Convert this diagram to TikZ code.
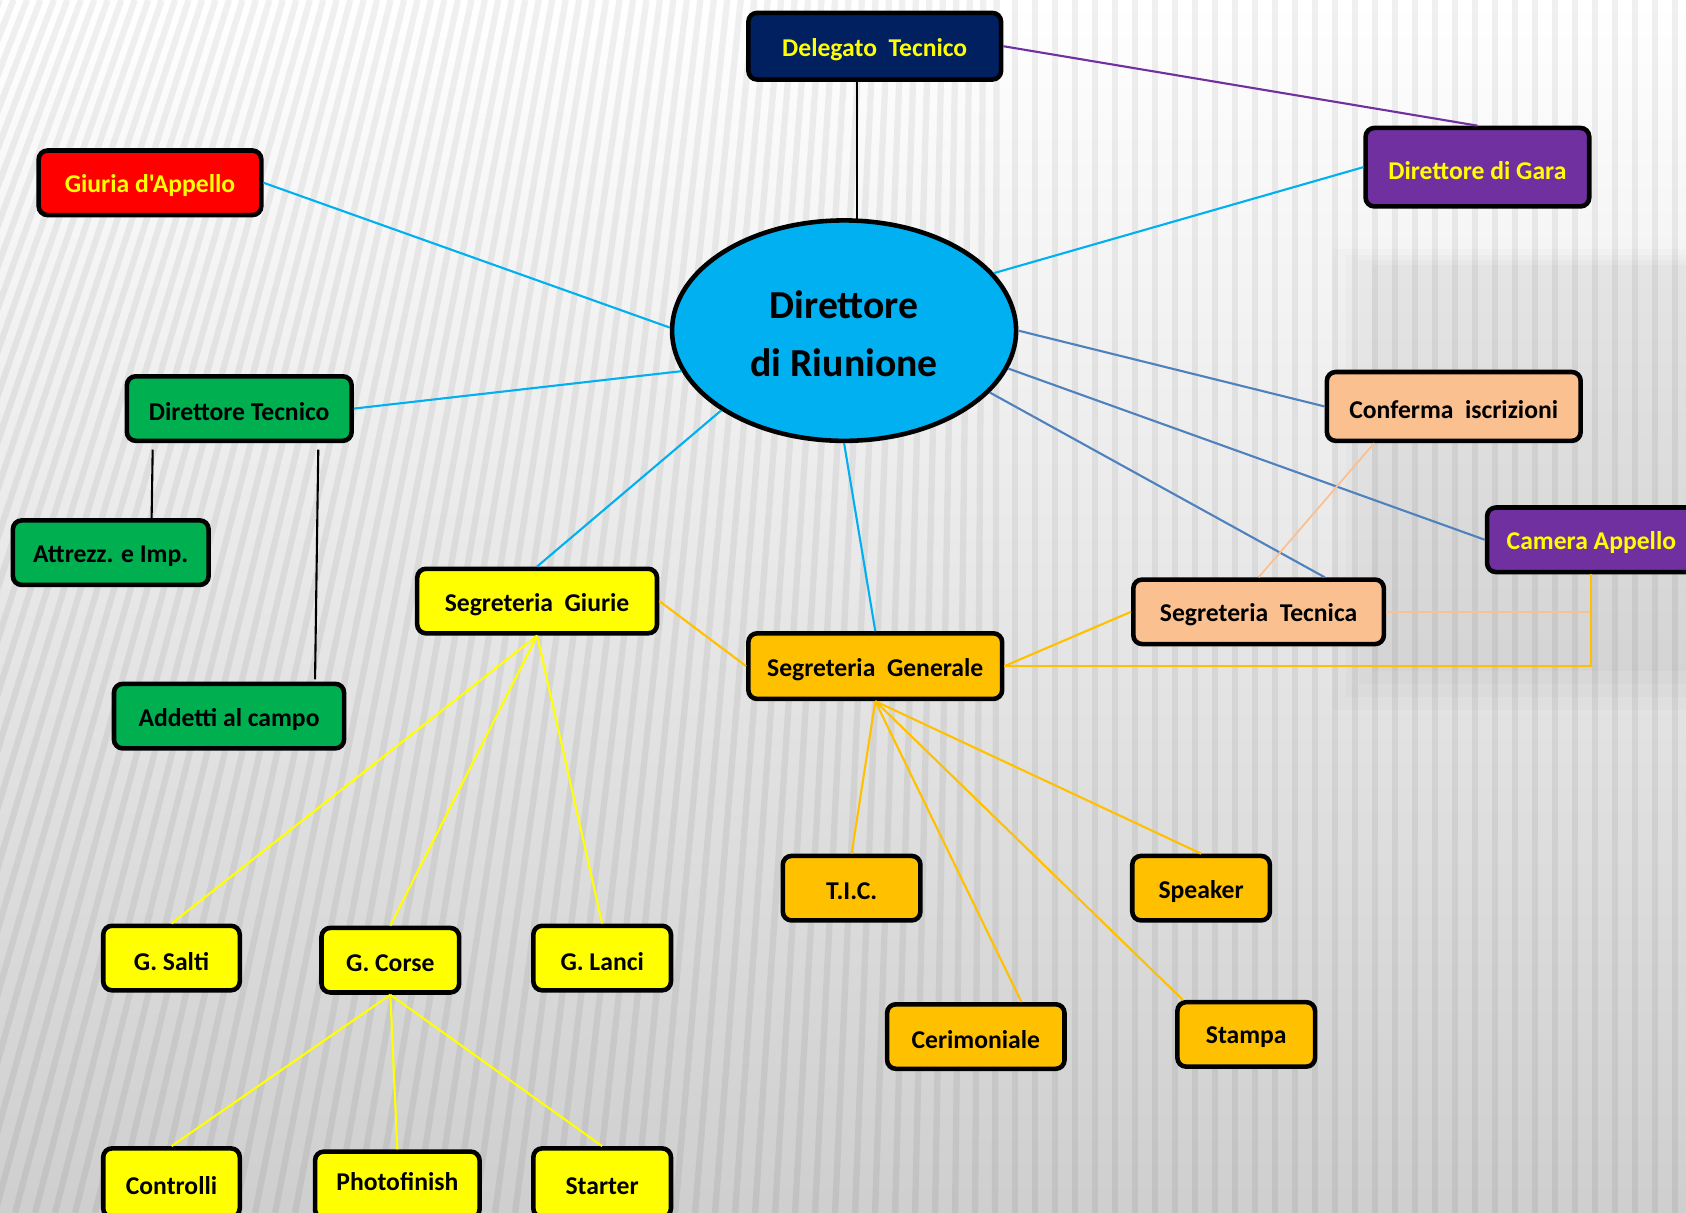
\documentclass[tikz,border=0pt]{standalone}
\usepackage{fontspec}
\setmainfont{Carlito}[Ligatures=TeXOff]
\usetikzlibrary{shapes.geometric,calc}
\definecolor{navyC}{HTML}{002060}
\definecolor{yelT}{HTML}{FFFF00}
\definecolor{redC}{HTML}{FF0000}
\definecolor{purpC}{HTML}{7030A0}
\definecolor{cyanC}{HTML}{00B0F0}
\definecolor{greenC}{HTML}{00B050}
\definecolor{peachC}{HTML}{FAC090}
\definecolor{orgC}{HTML}{FFC000}
\definecolor{steelC}{HTML}{4F81BD}
\newcommand\lowr[2][-0.9pt]{\raisebox{#1}[\height][\depth]{#2}}
\begin{document}
\begin{tikzpicture}[x=0.010753cm,y=-0.010753cm,
  box/.style={draw=black, line width=1.3pt, rounded corners=2.5pt, inner sep=0pt,
    font=\fontsize{7.3}{9}\selectfont\bfseries},
  sz/.style 2 args={minimum width=#1*0.010753cm, minimum height=#2*0.010753cm},
  blk/.style={draw=black, line width=0.6pt},
  cy/.style={draw=cyanC, line width=0.6pt},
  sb/.style={draw=steelC, line width=0.6pt},
  purp/.style={draw=purpC, line width=0.6pt},
  pch/.style={draw=peachC, line width=0.5pt},
  org/.style={draw=orgC, line width=0.6pt},
  ylw/.style={draw=yelT, line width=0.6pt}]
\useasboundingbox (0,0) rectangle (1568,1128);
\begin{scope}
\clip (0,0) rectangle (1568,1128);
\shade[top color=white, middle color=gray!5, bottom color=gray!38] (0,0) rectangle (1568,1128);
\foreach \d in {0,12,24,36}{
  \fill[black, opacity=0.014] (1240+\d,232+0.4*\d) rectangle (1568,660-\d);
}
\foreach \i in {0,...,110}{
  \pgfmathsetmacro\xb{-451+18.6*\i}
  \pgfmathsetmacro\xt{\xb>=930 ? \xb : (\xb+451)/1.485}
  \draw[line width=1.8pt, black, opacity=0.06] (\xt,0) -- (\xb,1128);
}
\end{scope}

% nodes
\node[box, fill=navyC, text=yelT, sz={235}{62}] (Delegato) at (813.5,43) {\lowr{Delegato\ \ Tecnico}};
\node[box, fill=redC, text=yelT, sz={207}{60}] (Giuria) at (139.5,170) {\lowr{Giuria d'Appello}};
\node[box, fill=purpC, text=yelT, sz={208}{73}] (DirGara) at (1374,155.5) {\lowr{Direttore di Gara}};
\node[ellipse, draw=black, line width=1.3pt, fill=cyanC, inner sep=0pt, sz={320}{205},
  align=center, font=\fontsize{11.3}{16.5}\selectfont\bfseries] (E) at (785,307.5)
  {\lowr{Direttore}\\\lowr{di Riunione}};
\node[box, fill=greenC, sz={209}{60}] (DirTecnico) at (222.5,380) {\lowr{Direttore Tecnico}};
\node[box, fill=peachC, sz={236}{64}] (Conferma) at (1352,378) {\lowr{Conferma\ \ iscrizioni}};
\node[box, fill=greenC, sz={182}{60}] (Attrezz) at (103,514) {\lowr{Attrezz. e Imp.}};
\node[box, fill=purpC, text=yelT, sz={194}{60}] (Camera) at (1480,502) {\lowr{Camera Appello}};
\node[box, fill=yelT, sz={223}{60}] (SegGiurie) at (499.5,559) {\lowr{Segreteria\ \ Giurie}};
\node[box, fill=peachC, sz={233}{60}] (SegTecnica) at (1170.5,569) {\lowr{Segreteria\ \ Tecnica}};
\node[box, fill=orgC, sz={236}{61}] (SegGenerale) at (814,619.5) {\lowr{Segreteria\ \ Generale}};
\node[box, fill=greenC, sz={214}{60}] (Addetti) at (213,666) {\lowr{Addetti al campo}};
\node[box, fill=orgC, sz={128}{60}] (TIC) at (792,826) {\lowr{T.I.C.}};
\node[box, fill=orgC, sz={128}{60}] (Speaker) at (1117,826) {\lowr{Speaker}};
\node[box, fill=yelT, sz={127}{60}] (GSalti) at (159.5,891) {\lowr{G. Salti}};
\node[box, fill=yelT, sz={128}{60}] (GCorse) at (363,893) {\lowr{G. Corse}};
\node[box, fill=yelT, sz={128}{60}] (GLanci) at (560,891) {\lowr{G. Lanci}};
\node[box, fill=orgC, sz={165}{60}] (Cerimoniale) at (907.5,964) {\lowr{Cerimoniale}};
\node[box, fill=orgC, sz={128}{60}] (Stampa) at (1159,962) {\lowr{Stampa}};
\node[box, fill=yelT, sz={127}{64}] (Controlli) at (159.5,1100) {\lowr{Controlli}};
\node[box, fill=yelT, sz={153}{62}] (Photofinish) at (369.5,1102) {\lowr[1pt]{Photofinish}};
\node[box, fill=yelT, sz={128}{64}] (Starter) at (560,1100) {\lowr{Starter}};

% connectors
\draw[blk] ($(Delegato.south)+(-16.5,0)$) -- ($(E.north)+(12,1)$);
\draw[purp] (Delegato.east) -- (DirGara.north);
\draw[cy] (Giuria.east) -- (E.179);
\draw[cy] (DirGara.west) -- (E.21);
\draw[cy] (DirTecnico.east) -- (E.194);
\draw[cy] (E.213) -- (SegGiurie.north);
\draw[cy] (E.south) -- (SegGenerale.north);
\draw[sb] (E.east) -- (Conferma.west);
\draw[sb] (E.347) -- (Camera.west);
\draw[sb] (E.337) -- ($(SegTecnica.north)+(61.5,0)$);
\draw[pch] ($(Conferma.south)+(-74,0)$) -- (SegTecnica.north);
\draw[pch] (SegTecnica.east) -- (SegTecnica.east -| Camera.south);
\draw[org] (Camera.south) -- (Camera.south |- SegGenerale.east) -- (SegGenerale.east);
\draw[org] (SegGenerale.east) -- (SegTecnica.west);
\draw[org] (SegGiurie.east) -- (SegGenerale.west);
\draw[blk] ($(DirTecnico.south)+(-80.5,6)$) -- ($(Attrezz.north)+(38,0)$);
\draw[blk] ($(DirTecnico.south)+(73.5,6)$) -- ($(Addetti.north)+(80,-2)$);
\draw[ylw] (SegGiurie.south) -- (GSalti.north);
\draw[ylw] (SegGiurie.south) -- (GCorse.north);
\draw[ylw] (SegGiurie.south) -- (GLanci.north);
\draw[ylw] (GCorse.south) -- (Controlli.north);
\draw[ylw] (GCorse.south) -- (Photofinish.north);
\draw[ylw] (GCorse.south) -- (Starter.north);
\draw[org] (SegGenerale.south) -- (TIC.north);
\draw[org] (SegGenerale.south) -- ($(Cerimoniale.north)+(42.5,0)$);
\draw[org] (SegGenerale.south) -- ($(Stampa.north)+(-59,0)$);
\draw[org] (SegGenerale.south) -- (Speaker.north);
\end{tikzpicture}
\end{document}
